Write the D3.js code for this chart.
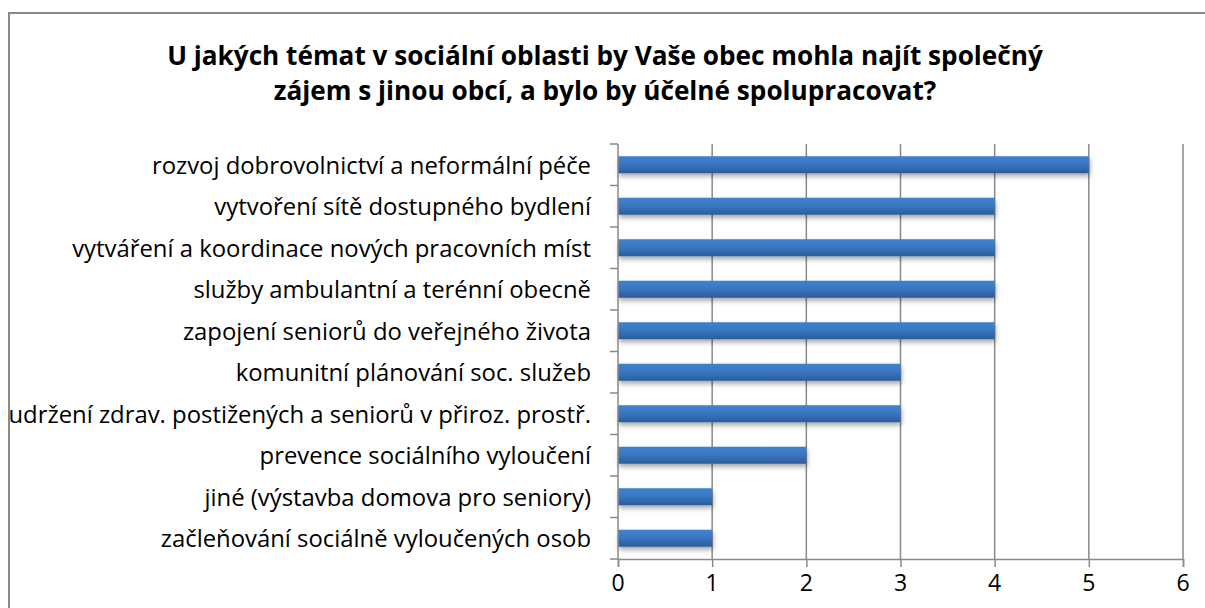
<!DOCTYPE html>
<html>
<head>
<meta charset="utf-8">
<script src="https://cdn.jsdelivr.net/npm/d3@7"></script>
<style>
  body { margin: 0; background: #fff; }
  svg { display: block; }
</style>
</head>
<body>
<script>
// data, top to bottom
let categories = [
    "rozvoj dobrovolnictví a neformální péče",
    "vytvoření sítě dostupného bydlení",
    "vytváření a koordinace nových pracovních míst",
    "služby ambulantní a terénní obecně",
    "zapojení seniorů do veřejného života",
    "komunitní plánování soc. služeb",
    "udržení zdrav. postižených a seniorů v přiroz. prostř.",
    "prevence sociálního vyloučení",
    "jiné (výstavba domova pro seniory)",
    "začleňování sociálně vyloučených osob"
];
let values = [5, 4, 4, 4, 4, 3, 3, 2, 1, 1];
let xTicks = [0, 1, 2, 3, 4, 5, 6];
let titleLines = [
    "U jakých témat v sociální oblasti by Vaše obec mohla najít společný",
    "zájem s jinou obcí, a bylo by účelné spolupracovat?"
];

let svgWidth = 1205,
    svgHeight = 608,
    plot = { left: 618, right: 1183, top: 144, bottom: 559 },
    fontFamily = "'Open Sans', 'Noto Sans', sans-serif",
    gridColor = "#898989";

let svg = d3.select("body").append("svg")
    .attr("width", svgWidth)
    .attr("height", svgHeight);

let defs = svg.append("defs");
let grad = defs.append("linearGradient")
    .attr("id", "barGrad")
    .attr("x1", 0).attr("y1", 0).attr("x2", 0).attr("y2", 1);
grad.append("stop").attr("offset", "0%").attr("stop-color", "#3f82cf");
grad.append("stop").attr("offset", "45%").attr("stop-color", "#3a77c2");
grad.append("stop").attr("offset", "100%").attr("stop-color", "#2b5c99");

let shadow = defs.append("filter")
    .attr("id", "barShadow")
    .attr("x", "-5%").attr("y", "-30%")
    .attr("width", "115%").attr("height", "190%");
shadow.append("feDropShadow")
    .attr("dx", 1).attr("dy", 3)
    .attr("stdDeviation", 2.5)
    .attr("flood-color", "#000")
    .attr("flood-opacity", 0.35);

// outer frame (only left and top edges are visible)
svg.append("path")
    .attr("d", "M9," + svgHeight + "V13H" + svgWidth)
    .attr("fill", "none")
    .attr("stroke", "#8a8a8a")
    .attr("stroke-width", 2);

let x = d3.scaleLinear().domain([0, 6]).range([plot.left, plot.right]);
let y = d3.scaleBand().domain(categories)
    .range([plot.top, plot.bottom])
    .paddingInner(0.59)
    .paddingOuter(0.295);

// fit a text to a target width by scaling its font size
function fitSize(text, weight, baseSize, targetWidth) {
    let t = svg.append("text")
        .attr("font-family", fontFamily)
        .attr("font-weight", weight)
        .attr("font-size", baseSize)
        .text(text);
    let w = t.node().getComputedTextLength();
    t.remove();
    return baseSize * targetWidth / w;
}

// title
let titleSize = Math.min(
    fitSize(titleLines[0], "bold", 24, 876),
    fitSize(titleLines[1], "bold", 24, 694)
);
svg.append("g")
    .selectAll("text")
    .data(titleLines)
    .join("text")
    .attr("x", 605)
    .attr("y", (d, i) => 65 + i * 35)
    .attr("text-anchor", "middle")
    .attr("font-family", fontFamily)
    .attr("font-weight", "bold")
    .attr("font-size", titleSize)
    .attr("fill", "#000")
    .text(d => d);

// vertical gridlines
svg.append("g")
    .selectAll("line")
    .data(xTicks.slice(1))
    .join("line")
    .attr("x1", d => x(d)).attr("x2", d => x(d))
    .attr("y1", plot.top).attr("y2", plot.bottom)
    .attr("stroke", gridColor)
    .attr("stroke-width", 1.5);

// bars
svg.append("g")
    .selectAll("rect")
    .data(categories)
    .join("rect")
    .attr("x", x(0))
    .attr("y", d => y(d))
    .attr("width", (d, i) => x(values[i]) - x(0))
    .attr("height", y.bandwidth())
    .attr("fill", "url(#barGrad)")
    .attr("filter", "url(#barShadow)");

// x axis line and ticks (labels drawn separately)
let xAxis = svg.append("g")
    .attr("transform", "translate(0," + plot.bottom + ")")
    .call(d3.axisBottom(x).tickValues(xTicks).tickSize(8).tickFormat(""));
xAxis.select(".domain").attr("stroke", gridColor).attr("stroke-width", 1.5);
xAxis.selectAll(".tick line").attr("stroke", gridColor).attr("stroke-width", 1.5);

svg.append("g")
    .selectAll("text")
    .data(xTicks)
    .join("text")
    .attr("x", d => x(d))
    .attr("y", plot.bottom + 32)
    .attr("text-anchor", "middle")
    .attr("font-family", fontFamily)
    .attr("font-size", 23)
    .attr("fill", "#000")
    .text(d => d);

// y axis: line plus ticks at category boundaries
let boundaries = d3.range(categories.length + 1).map(i => plot.top + i * (plot.bottom - plot.top) / categories.length);
svg.append("line")
    .attr("x1", x(0)).attr("x2", x(0))
    .attr("y1", plot.top).attr("y2", plot.bottom)
    .attr("stroke", gridColor)
    .attr("stroke-width", 1.5);
svg.append("g")
    .selectAll("line")
    .data(boundaries)
    .join("line")
    .attr("x1", x(0) - 8).attr("x2", x(0))
    .attr("y1", d => d).attr("y2", d => d)
    .attr("stroke", gridColor)
    .attr("stroke-width", 1.5);

// category labels
let catSize = fitSize(categories[6], "normal", 19, 583);
svg.append("g")
    .selectAll("text")
    .data(categories)
    .join("text")
    .attr("x", 591)
    .attr("y", d => y(d) + y.bandwidth() / 2 + 9)
    .attr("text-anchor", "end")
    .attr("font-family", fontFamily)
    .attr("font-size", catSize)
    .attr("fill", "#000")
    .text(d => d);
</script>
</body>
</html>
